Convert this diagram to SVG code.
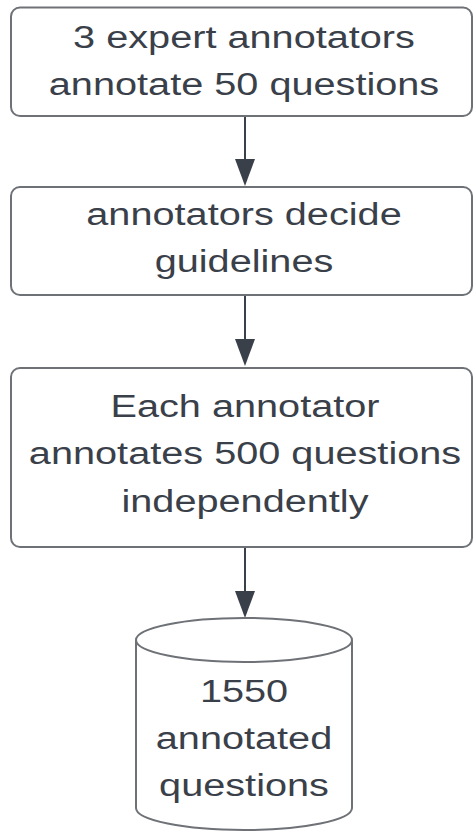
<svg xmlns="http://www.w3.org/2000/svg" width="473" height="832" viewBox="0 0 473 832">
  <style>
    .box { fill: #ffffff; stroke: #6e7277; stroke-width: 2; }
    .lbl { font-family: "Liberation Sans", Arial, sans-serif; font-size: 31.5px; fill: #3a4049; text-anchor: middle; }
    .edge { stroke: #3a4049; stroke-width: 2; fill: none; }
  </style>
  <defs>
    <marker id="arrow" viewBox="0 0 20 27" refX="10" refY="27" markerWidth="20" markerHeight="27" markerUnits="userSpaceOnUse" orient="auto-start-reverse">
      <path d="M0,0 L20,0 L10,27 Z" fill="#3a4049"/>
    </marker>
  </defs>
  <rect width="473" height="832" fill="#ffffff"/>

  <!-- connectors -->
  <g id="connectors">
    <line class="edge" x1="245" y1="116" x2="245" y2="159"/>
    <path d="M235,159 L255,159 L245,186 Z" fill="#3a4049"/>
    <line class="edge" x1="245" y1="295" x2="245" y2="339"/>
    <path d="M235,339 L255,339 L245,366 Z" fill="#3a4049"/>
    <line class="edge" x1="245" y1="547" x2="245" y2="591"/>
    <path d="M235,591 L255,591 L245,618 Z" fill="#3a4049"/>
  </g>

  <!-- step 1 -->
  <g id="step-expert">
    <rect class="box" x="11" y="7.5" width="461" height="108.5" rx="9"/>
    <g transform="translate(244,0) scale(1.26,1)">
      <text class="lbl" x="0" y="47.7">3 expert annotators</text>
      <text class="lbl" x="0" y="95">annotate 50 questions</text>
    </g>
  </g>

  <!-- step 2 -->
  <g id="step-guidelines">
    <rect class="box" x="11" y="187" width="461" height="108" rx="9"/>
    <g transform="translate(244,0) scale(1.26,1)">
      <text class="lbl" x="0" y="225">annotators decide</text>
      <text class="lbl" x="0" y="272">guidelines</text>
    </g>
  </g>

  <!-- step 3 -->
  <g id="step-independent">
    <rect class="box" x="11" y="368" width="461" height="179" rx="9"/>
    <g transform="translate(245,0) scale(1.26,1)">
      <text class="lbl" x="0" y="417">Each annotator</text>
      <text class="lbl" x="0" y="464.5">annotates 500 questions</text>
      <text class="lbl" x="0" y="512">independently</text>
    </g>
  </g>

  <!-- result store -->
  <g id="result-store">
    <path class="box" d="M136,640 A108,22 0 0 1 352,640 L352,808 A108,22 0 0 1 136,808 Z"/>
    <path class="box" d="M136,640 A108,22 0 0 0 352,640" fill="none"/>
    <g transform="translate(244,0) scale(1.26,1)">
      <text class="lbl" x="0" y="702">1550</text>
      <text class="lbl" x="0" y="749">annotated</text>
      <text class="lbl" x="0" y="796">questions</text>
    </g>
  </g>
</svg>
